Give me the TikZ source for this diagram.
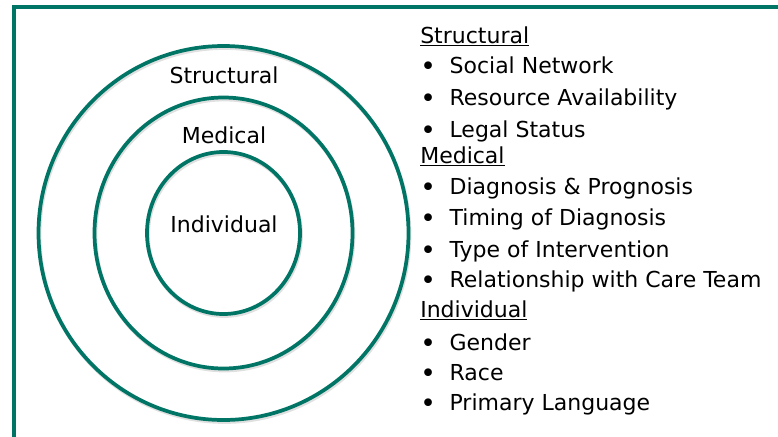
\documentclass[tikz,border=0pt]{standalone}
\usepackage{fontspec}
\setmainfont{DejaVu Sans}
\usetikzlibrary{positioning}
\definecolor{ringteal}{RGB}{0,117,102}
\newcommand{\labelfont}{\fontsize{16.5}{20}\selectfont}
\newcommand{\bulletmark}{\makebox[22pt][l]{\raisebox{-1.6pt}{\scalebox{1.2}{\textbullet}}}}
\tikzstyle{ring}=[draw=ringteal, line width=2.8pt]
\tikzstyle{ringshadow}=[draw=black!12, line width=2.8pt]
\tikzstyle{ringlabel}=[font=\labelfont, inner sep=0pt, anchor=base]
\tikzstyle{listhead}=[font=\labelfont, inner sep=0pt, anchor=base west]
\tikzstyle{listentry}=[font=\labelfont, inner sep=0pt, anchor=base west]
\newcommand{\listhead}{\node[listhead]}
\newcommand{\listentry}{\node[listentry]}

\begin{document}
\begin{tikzpicture}[x=0.75pt, y=-0.75pt]
    \useasboundingbox (0,0) rectangle (778,436);
    % frame
    \draw[draw=ringteal, line width=2.6pt] (14,437) -- (14,7) -- (779,7);

    % rings
    \coordinate (ctr) at (223.5,233);
    \draw[ringshadow] ([shift={(1,2)}]ctr) ellipse [x radius=185, y radius=187];
    \draw[ringshadow] ([shift={(1,2)}]ctr) ellipse [x radius=129, y radius=135.5];
    \draw[ringshadow] ([shift={(1,2)}]ctr) ellipse [x radius=76.5, y radius=81];
    \draw[ring] (ctr) ellipse [x radius=185, y radius=187];
    \draw[ring] (ctr) ellipse [x radius=129, y radius=135.5];
    \draw[ring] (ctr) ellipse [x radius=76.5, y radius=81];

    \node[ringlabel] (lstruct) at (224,83) {Structural};
    \node[ringlabel] (lmed) at (224,143) {Medical};
    \node[ringlabel] (lind) at (224,232) {Individual};

    % list
    \listhead (hstruct) at (420,43) {\underline{Structural}};
    \listentry (e1) at (420,73) {\bulletmark Social Network};
    \listentry (e2) at (420,105) {\bulletmark Resource Availability};
    \listentry (e3) at (420,137) {\bulletmark Legal Status};
    \listhead (hmed) at (420,163) {\underline{Medical}};
    \listentry (e4) at (420,194) {\bulletmark Diagnosis \& Prognosis};
    \listentry (e5) at (420,225) {\bulletmark Timing of Diagnosis};
    \listentry (e6) at (420,257) {\bulletmark Type of Intervention};
    \listentry (e7) at (420,287) {\bulletmark Relationship with Care Team};
    \listhead (hind) at (420,317) {\underline{Individual}};
    \listentry (e8) at (420,350) {\bulletmark Gender};
    \listentry (e9) at (420,380) {\bulletmark Race};
    \listentry (e10) at (420,410) {\bulletmark Primary Language};
\end{tikzpicture}
\end{document}
